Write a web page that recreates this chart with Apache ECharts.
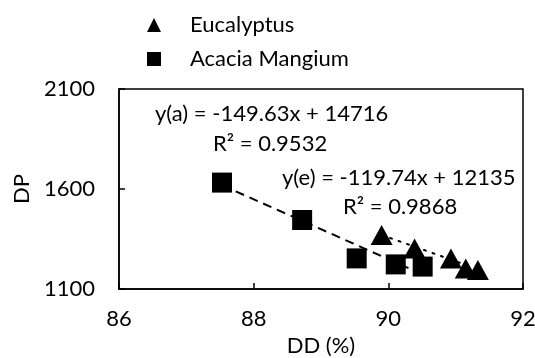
<!DOCTYPE html>
<html><head><meta charset="utf-8">
<script src="https://cdn.jsdelivr.net/npm/echarts@6/dist/echarts.min.js"></script>
<style>html,body{margin:0;padding:0;background:#fff}#c{width:535px;height:358px}</style>
</head><body><div id="c"></div>
<script>
const eucX = [89.90, 90.39, 90.93, 91.15, 91.33];
const eucY = [1370, 1303, 1253, 1203, 1195];
const acaX = [87.53, 88.72, 89.53, 90.11, 90.51];
const acaY = [1632, 1445, 1253, 1223, 1212];
const eucFit = {slope: -119.74, intercept: 12135, r2: 0.9868};
const acaFit = {slope: -149.63, intercept: 14716, r2: 0.9532};
const xTicks = [86, 88, 90, 92];
const yTicks = [1100, 1600, 2100];

const FONT = 'Lato';
const FS = 22;
const fitLine = (f, xs) => [Math.min(...xs), Math.max(...xs)].map(x => [x, f.slope * x + f.intercept]);

const chart = echarts.init(document.getElementById('c'), null, {renderer: 'canvas'});
chart.setOption({
  animation: false,
  textStyle: {fontFamily: FONT, color: '#000'},
  grid: {left: 119, right: 12, top: 89, bottom: 69, show: true, borderColor: '#000', borderWidth: 1.5,
         containLabel: false, outerBoundsMode: 'none'},
  legend: {
    orient: 'vertical', left: 142, top: 9, itemWidth: 14, itemHeight: 14, itemGap: 12,
    data: [{name: 'Eucalyptus', icon: 'triangle'}, {name: 'Acacia Mangium', icon: 'rect'}],
    itemStyle: {opacity: 1},
    textStyle: {fontFamily: FONT, fontSize: FS, color: '#000', padding: [0, 0, 0, 24]}
  },
  xAxis: {
    type: 'value', min: xTicks[0], max: xTicks[xTicks.length - 1], interval: 2,
    name: 'DD (%)', nameLocation: 'middle', nameGap: 38,
    nameTextStyle: {fontFamily: FONT, fontSize: FS, color: '#000'},
    axisLine: {lineStyle: {color: '#000', width: 1.5}},
    axisTick: {inside: true, length: 6, lineStyle: {color: '#000', width: 1.5}},
    axisLabel: {fontFamily: FONT, fontSize: FS, color: '#000', margin: 19, formatter: v => String(v)},
    splitLine: {show: false}
  },
  yAxis: {
    type: 'value', min: yTicks[0], max: yTicks[yTicks.length - 1], interval: 500,
    name: 'DP', nameLocation: 'middle', nameGap: 83,
    nameTextStyle: {fontFamily: FONT, fontSize: FS, color: '#000'},
    axisLine: {lineStyle: {color: '#000', width: 1.5}},
    axisTick: {inside: true, length: 6, lineStyle: {color: '#000', width: 1.5}},
    axisLabel: {fontFamily: FONT, fontSize: FS, color: '#000', margin: 24, formatter: v => String(v)},
    splitLine: {show: false}
  },
  series: [
    {name: 'Acacia fit', type: 'line', data: fitLine(acaFit, acaX), symbol: 'none',
     lineStyle: {color: '#000', width: 2, type: [9, 6]}, z: 1, silent: true},
    {name: 'Eucalyptus fit', type: 'line', data: fitLine(eucFit, eucX), symbol: 'none',
     lineStyle: {color: '#000', width: 2, type: [2, 7], cap: 'round'}, z: 1, silent: true},
    {name: 'Eucalyptus', type: 'scatter', symbol: 'triangle', symbolSize: [22, 20],
     itemStyle: {color: '#000', opacity: 1}, data: eucX.map((x, i) => [x, eucY[i]]), z: 3},
    {name: 'Acacia Mangium', type: 'scatter', symbol: 'rect', symbolSize: 20,
     itemStyle: {color: '#000', opacity: 1}, data: acaX.map((x, i) => [x, acaY[i]]), z: 2}
  ],
  graphic: [
    {type: 'text', left: 155, top: 103, style: {text: 'y(a) = -149.63x + 14716', font: FS + 'px ' + FONT, fill: '#000'}},
    {type: 'text', left: 213, top: 133, style: {text: 'R² = 0.9532', font: FS + 'px ' + FONT, fill: '#000'}},
    {type: 'text', left: 282, top: 167, style: {text: 'y(e) = -119.74x + 12135', font: FS + 'px ' + FONT, fill: '#000'}},
    {type: 'text', left: 343, top: 196, style: {text: 'R² = 0.9868', font: FS + 'px ' + FONT, fill: '#000'}}
  ]
});
</script></body></html>
